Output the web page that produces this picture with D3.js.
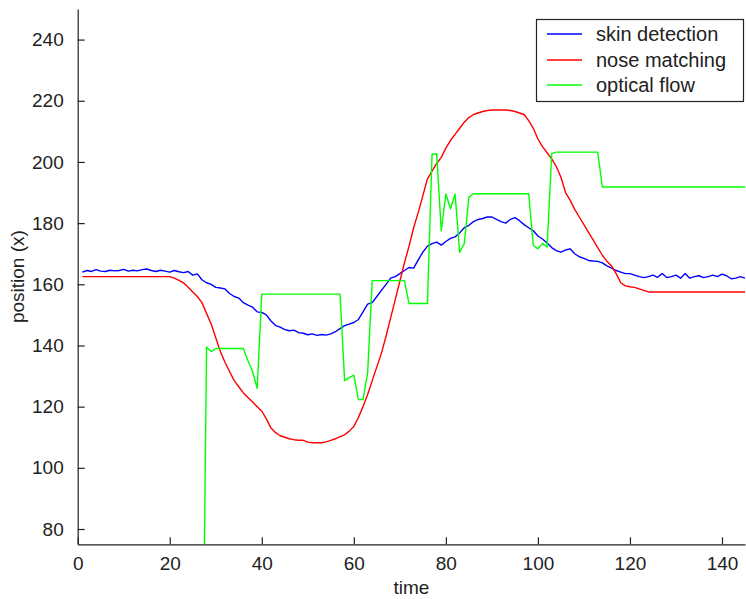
<!DOCTYPE html>
<html>
<head>
<meta charset="utf-8">
<script src="https://cdn.jsdelivr.net/npm/d3@7"></script>
<style>
  html, body { margin: 0; padding: 0; background: #fff; }
  svg { display: block; font-family: "Liberation Sans", Arial, sans-serif; }
</style>
</head>
<body>
<svg id="chart" width="746" height="599"></svg>
<script>
// Frame index of each sample
const time = d3.range(1, 146);

// Head x-position estimated by three tracking methods
const skinDetection = [
  164.0, 164.5, 164.2, 164.8, 164.3, 164.2, 164.6, 164.4, 164.5, 164.9,
  164.3, 164.6, 164.4, 164.8, 165.0, 164.5, 164.2, 164.6, 164.3, 164.0,
  164.5, 164.1, 163.8, 164.2, 163.0, 163.4, 161.5, 160.5, 160.0, 159.0,
  158.8, 158.5, 157.0, 156.0, 155.5, 154.0, 153.2, 152.5, 151.0, 150.8,
  150.0, 148.0, 146.5, 146.0, 145.2, 144.8, 145.0, 144.2, 144.0, 143.5,
  143.8, 143.3, 143.6, 143.4, 143.8, 144.5, 145.5, 146.5, 147.0, 147.5,
  148.5, 151.0, 153.5, 154.0, 156.0, 158.0, 160.0, 162.0, 162.5, 163.5,
  164.5, 165.5, 165.3, 168.0, 170.5, 172.5, 173.3, 173.8, 172.8, 174.0,
  175.0, 175.5, 176.8, 178.5, 179.3, 180.5, 181.2, 181.5, 182.0, 182.0,
  181.2, 180.5, 180.0, 181.2, 181.8, 180.8, 179.5, 178.5, 177.5, 175.8,
  174.8, 173.5, 172.0, 171.0, 170.5, 171.2, 171.6, 170.0, 169.0, 168.5,
  167.8, 167.6, 167.5, 167.0, 166.0, 165.3, 164.5, 164.0, 163.5, 163.5,
  163.0, 162.5, 162.2, 162.5, 163.0, 162.3, 163.5, 162.2, 162.5, 163.0,
  162.0, 163.5, 162.0, 162.5, 162.8, 162.2, 162.5, 163.0, 162.5, 163.3,
  162.8, 161.8, 162.0, 162.5, 162.0
];

const noseMatching = [
  162.5, 162.5, 162.5, 162.5, 162.5, 162.5, 162.5, 162.5, 162.5, 162.5,
  162.5, 162.5, 162.5, 162.5, 162.5, 162.5, 162.5, 162.5, 162.5, 162.5,
  162.0, 161.3, 160.5, 159.0, 157.5, 156.0, 154.0, 150.5, 147.0, 142.5,
  138.0, 134.5, 131.5, 128.5, 126.5, 124.5, 123.0, 121.5, 120.0, 118.5,
  116.0, 113.0, 111.5, 110.5, 110.0, 109.5, 109.2, 109.0, 109.0, 108.4,
  108.2, 108.2, 108.2, 108.5, 109.0, 109.5, 110.2, 110.8, 112.0, 113.5,
  116.5, 120.0, 124.0, 128.5, 133.0, 137.5, 143.0, 149.0, 155.0, 161.0,
  167.0, 172.5, 178.5, 183.5, 189.0, 194.5, 197.0, 199.5, 201.5, 204.5,
  207.0, 209.0, 211.0, 213.0, 214.5, 215.5, 216.0, 216.5, 216.8, 217.0,
  217.0, 217.0, 217.0, 216.8, 216.5, 216.0, 215.5, 213.5, 211.0, 207.5,
  205.0, 203.0, 201.0, 198.5, 195.0, 190.0, 187.5, 184.5, 182.0, 179.5,
  177.0, 174.5, 172.0, 169.5, 167.5, 166.0, 163.5, 160.5, 159.5, 159.2,
  159.0, 158.5, 158.0, 157.5, 157.5, 157.5, 157.5, 157.5, 157.5, 157.5,
  157.5, 157.5, 157.5, 157.5, 157.5, 157.5, 157.5, 157.5, 157.5, 157.5,
  157.5, 157.5, 157.5, 157.5, 157.5
];

// Optical flow reports 0 until it locks on (below the visible range)
const opticalFlow = [
  0, 0, 0, 0, 0, 0, 0, 0, 0, 0,
  0, 0, 0, 0, 0, 0, 0, 0, 0, 0,
  0, 0, 0, 0, 0, 0, 0, 139.5, 138.0, 139.0,
  139.0, 139.0, 139.0, 139.0, 139.0, 139.0, 135.0, 131.5, 126.0, 156.8,
  156.8, 156.8, 156.8, 156.8, 156.8, 156.8, 156.8, 156.8, 156.8, 156.8,
  156.8, 156.8, 156.8, 156.8, 156.8, 156.8, 156.8, 128.5, 129.5, 130.3,
  122.3, 122.3, 131.0, 161.2, 161.2, 161.2, 161.2, 161.2, 161.2, 161.2,
  161.2, 153.7, 153.7, 153.7, 153.7, 153.7, 202.5, 202.7, 177.5, 189.5,
  184.7, 189.5, 170.5, 173.3, 188.5, 189.6, 189.6, 189.6, 189.6, 189.6,
  189.6, 189.6, 189.6, 189.6, 189.6, 189.6, 189.6, 189.6, 172.7, 171.6,
  173.3, 172.2, 202.7, 203.2, 203.2, 203.2, 203.2, 203.2, 203.2, 203.2,
  203.2, 203.2, 203.2, 191.8, 191.8, 191.8, 191.8, 191.8, 191.8, 191.8,
  191.8, 191.8, 191.8, 191.8, 191.8, 191.8, 191.8, 191.8, 191.8, 191.8,
  191.8, 191.8, 191.8, 191.8, 191.8, 191.8, 191.8, 191.8, 191.8, 191.8,
  191.8, 191.8, 191.8, 191.8, 191.8
];

const seriesNames = ["skin detection", "nose matching", "optical flow"];
const seriesColors = ["#0000ff", "#ff0000", "#00ff00"];
const xTicks = [0, 20, 40, 60, 80, 100, 120, 140];
const yTicks = [80, 100, 120, 140, 160, 180, 200, 220, 240];

const svg = d3.select("#chart");
const plot = { left: 77.7, right: 745, top: 9, bottom: 544.3 };

const x = d3.scaleLinear().domain([0, 145]).range([plot.left, plot.right]);
const y = d3.scaleLinear().domain([75, 250]).range([plot.bottom, plot.top]);

svg.append("defs").append("clipPath").attr("id", "plotClip")
  .append("rect")
  .attr("x", plot.left).attr("y", plot.top)
  .attr("width", plot.right - plot.left).attr("height", plot.bottom - plot.top);

// Axes with inward ticks
const xAxis = svg.append("g")
  .attr("transform", `translate(0,${plot.bottom})`)
  .call(d3.axisBottom(x).tickValues(xTicks).tickSizeInner(-7).tickSizeOuter(0).tickPadding(12));
const yAxis = svg.append("g")
  .attr("transform", `translate(${plot.left},0)`)
  .call(d3.axisLeft(y).tickValues(yTicks).tickSizeInner(-7).tickSizeOuter(0).tickPadding(14));

[xAxis, yAxis].forEach(g => {
  g.selectAll("path.domain").attr("stroke", "#222").attr("stroke-width", 1.2);
  g.selectAll(".tick line").attr("stroke", "#222").attr("stroke-width", 1.2);
  g.selectAll(".tick text")
    .attr("fill", "#222")
    .style("font-family", '"Liberation Sans", Arial, sans-serif')
    .style("font-size", "19px");
});

// Data lines
const allSeries = [skinDetection, noseMatching, opticalFlow];
const line = d3.line()
  .x((d, i) => x(time[i]))
  .y(d => y(d));

const lines = svg.append("g").attr("clip-path", "url(#plotClip)");
allSeries.forEach((vals, k) => {
  lines.append("path")
    .datum(vals)
    .attr("fill", "none")
    .attr("stroke", seriesColors[k])
    .attr("stroke-width", 1.4)
    .attr("stroke-linejoin", "round")
    .attr("d", line);
});

// Axis titles
svg.append("text")
  .attr("x", (plot.left + plot.right) / 2)
  .attr("y", 594)
  .attr("text-anchor", "middle")
  .attr("fill", "#222")
  .style("font-size", "19px")
  .text("time");

svg.append("text")
  .attr("transform", `translate(24,${(plot.top + plot.bottom) / 2}) rotate(-90)`)
  .attr("text-anchor", "middle")
  .attr("fill", "#222")
  .style("font-size", "19px")
  .text("position (x)");

// Legend
const legend = svg.append("g");
legend.append("rect")
  .attr("x", 536.5).attr("y", 19.5)
  .attr("width", 207).attr("height", 82)
  .attr("fill", "#fff").attr("stroke", "#222").attr("stroke-width", 1.2);

const rowY = [34, 60, 85];
seriesNames.forEach((name, k) => {
  legend.append("line")
    .attr("x1", 547).attr("x2", 582)
    .attr("y1", rowY[k]).attr("y2", rowY[k])
    .attr("stroke", seriesColors[k]).attr("stroke-width", 1.4);
  legend.append("text")
    .attr("x", 596).attr("y", rowY[k])
    .attr("dy", "0.35em")
    .attr("fill", "#222")
    .style("font-size", "20px")
    .text(name);
});
</script>
</body>
</html>
